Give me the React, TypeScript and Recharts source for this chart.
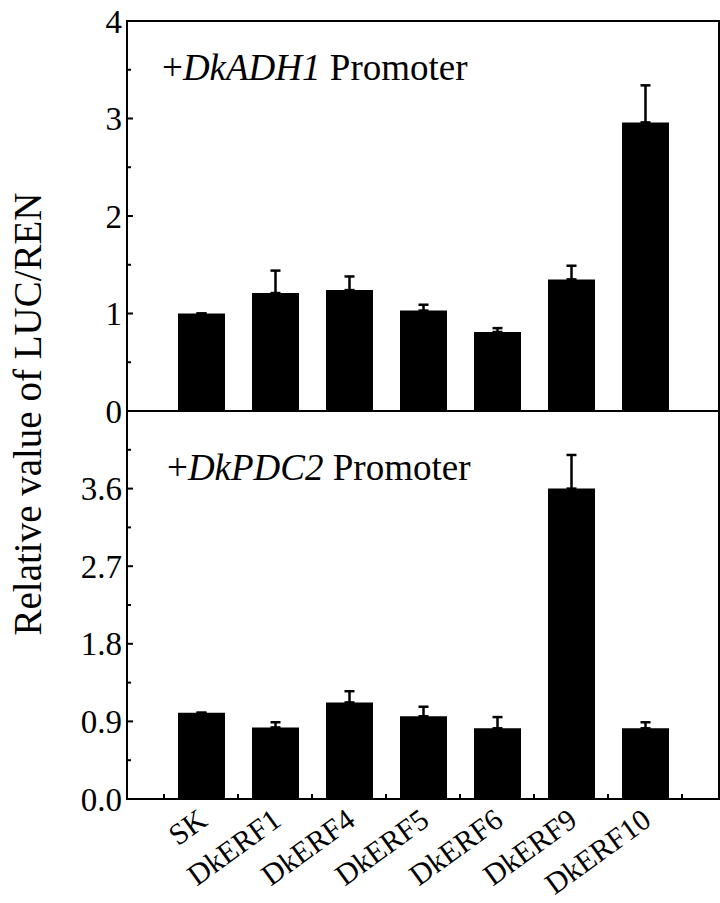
import { Bar, BarChart, ErrorBar, ReferenceArea, XAxis, YAxis } from "recharts";

const categories = ["SK", "DkERF1", "DkERF4", "DkERF5", "DkERF6", "DkERF9", "DkERF10"];

// +DkADH1 promoter
const adh1Values = [1.0, 1.21, 1.24, 1.03, 0.81, 1.35, 2.96];
const adh1Errors = [0, 0.23, 0.14, 0.06, 0.04, 0.14, 0.38];

// +DkPDC2 promoter
const pdc2Values = [1.0, 0.83, 1.12, 0.96, 0.82, 3.6, 0.82];
const pdc2Errors = [0, 0.06, 0.13, 0.11, 0.13, 0.39, 0.07];

const xTicks = [0.5, 1, 1.5, 2, 2.5, 3, 3.5, 4, 4.5, 5, 5.5, 6, 6.5, 7, 7.5];
const adh1Ticks = [0, 0.5, 1, 1.5, 2, 2.5, 3, 3.5, 4];
const adh1Labels = [0, 1, 2, 3, 4];
const pdc2Ticks = [0, 0.45, 0.9, 1.35, 1.8, 2.25, 2.7, 3.15, 3.6, 4.05];
const pdc2Labels = [0, 0.9, 1.8, 2.7, 3.6];

const font = "'Liberation Serif', 'Times New Roman', serif";

const toRows = (values: number[], errors: number[]) =>
  categories.map((name, i) => ({ x: i + 1, name, value: values[i], err: [0, errors[i]] }));

const adh1Data = toRows(adh1Values, adh1Errors);
const pdc2Data = toRows(pdc2Values, pdc2Errors);

function makeXTick(showLabels: boolean) {
  return (props: any) => {
    const { x, y, payload } = props;
    const v = payload.value as number;
    if (Number.isInteger(v)) {
      if (!showLabels) return <g />;
      return (
        <text
          transform={`translate(${x + 8},${y + 25}) rotate(-36)`}
          textAnchor="end"
          style={{ fontFamily: font, fontSize: 30 }}
          fill="#000"
        >
          {categories[v - 1]}
        </text>
      );
    }
    return <line x1={x} x2={x} y1={y} y2={y - 5} stroke="#000" strokeWidth={2} />;
  };
}

function makeYTick(labels: number[], digits: number) {
  return (props: any) => {
    const { x, y, payload } = props;
    const v = payload.value as number;
    const major = labels.some((l) => Math.abs(l - v) < 1e-6);
    return (
      <g>
        <line x1={x} x2={x + (major ? 6 : 4)} y1={y} y2={y} stroke="#000" strokeWidth={2} />
        {major && (
          <text
            x={x - 5}
            y={y}
            dy="0.35em"
            textAnchor="end"
            style={{ fontFamily: font, fontSize: 33 }}
            fill="#000"
          >
            {v.toFixed(digits)}
          </text>
        )}
      </g>
    );
  };
}

function Panel({
  data,
  yMax,
  yTicks,
  yLabels,
  digits,
  showLabels,
  height,
  margin,
  xHeight,
}: {
  data: any[];
  yMax: number;
  yTicks: number[];
  yLabels: number[];
  digits: number;
  showLabels: boolean;
  height: number;
  margin: { top: number; right: number; bottom: number; left: number };
  xHeight: number;
}) {
  return (
    <BarChart width={720} height={height} data={data} margin={margin} style={{ overflow: "visible" }}>
      <XAxis
        dataKey="x"
        type="number"
        domain={[0, 8]}
        ticks={xTicks}
        interval={0}
        height={xHeight}
        axisLine={false}
        tickLine={false}
        tickSize={0}
        tickMargin={0}
        tick={makeXTick(showLabels)}
        allowDataOverflow
      />
      <YAxis
        type="number"
        domain={[0, yMax]}
        ticks={yTicks}
        interval={0}
        width={127}
        axisLine={false}
        tickLine={false}
        tickSize={0}
        tickMargin={0}
        tick={makeYTick(yLabels, digits)}
        allowDataOverflow
      />
      <ReferenceArea
        x1={0}
        x2={8}
        y1={0}
        y2={yMax}
        fill="none"
        stroke="#000"
        strokeWidth={2}
        ifOverflow="visible"
      />
      <Bar dataKey="value" fill="#000" barSize={47} isAnimationActive={false}>
        <ErrorBar dataKey="err" direction="y" width={5} strokeWidth={2.5} stroke="#000" isAnimationActive={false} />
      </Bar>
    </BarChart>
  );
}

export default function App() {
  return (
    <div style={{ position: "absolute", left: 0, top: 0, width: 720, height: 903, background: "#fff" }}>
      <div style={{ position: "absolute", left: 0, top: 0 }}>
        <Panel
          data={adh1Data}
          yMax={4}
          yTicks={adh1Ticks}
          yLabels={adh1Labels}
          digits={0}
          showLabels={false}
          height={431}
          margin={{ top: 21, right: 1, bottom: 20, left: 0 }}
          xHeight={0}
        />
      </div>
      <div style={{ position: "absolute", left: 0, top: 409 }}>
        <Panel
          data={pdc2Data}
          yMax={4.5}
          yTicks={pdc2Ticks}
          yLabels={pdc2Labels}
          digits={1}
          showLabels
          height={494}
          margin={{ top: 2, right: 1, bottom: 0, left: 0 }}
          xHeight={104}
        />
      </div>
      <svg
        width={720}
        height={903}
        style={{ position: "absolute", left: 0, top: 0, pointerEvents: "none" }}
      >
        <text
          transform="translate(41,414) rotate(-90)"
          textAnchor="middle"
          style={{ fontFamily: font, fontSize: 39 }}
          fill="#000"
        >
          Relative value of LUC/REN
        </text>
        <text x={162} y={80} style={{ fontFamily: font, fontSize: 37 }} fill="#000">
          +<tspan fontStyle="italic">DkADH1</tspan> Promoter
        </text>
        <text x={167} y={480} style={{ fontFamily: font, fontSize: 37 }} fill="#000">
          +<tspan fontStyle="italic">DkPDC2</tspan> Promoter
        </text>
      </svg>
    </div>
  );
}
